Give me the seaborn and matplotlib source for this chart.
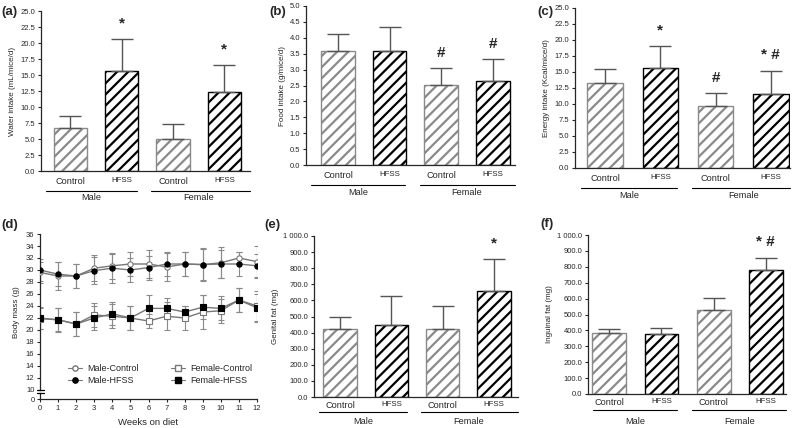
import numpy as np
import pandas as pd
import matplotlib
matplotlib.use("Agg")
import matplotlib.pyplot as plt
import seaborn as sns

# ---------------- data ----------------
sexes = ["Male", "Male", "Female", "Female"]
diets = ["Control", "HFSS", "Control", "HFSS"]

water_mean = [6.7, 15.6, 5.0, 12.3]
water_err = [1.9, 5.1, 2.3, 4.3]
water_sig = ["", "*", "", "*"]

food_mean = [3.58, 3.58, 2.53, 2.63]
food_err = [0.54, 0.77, 0.52, 0.69]
food_sig = ["", "", "#", "#"]

energy_mean = [13.3, 15.7, 9.7, 11.5]
energy_err = [2.1, 3.4, 2.0, 3.7]
energy_sig = ["", "*", "#", "* #"]

genital_mean = [425, 445, 420, 658]
genital_err = [70, 183, 145, 202]
genital_sig = ["", "", "", "*"]

inguinal_mean = [385, 375, 528, 780]
inguinal_err = [23, 37, 74, 78]
inguinal_sig = ["", "", "", "* #"]

weeks = list(range(13))
male_ctrl = [29.6, 29.0, 29.0, 30.3, 30.7, 31.0, 31.0, 30.5, 31.0, 30.9, 31.2, 32.0, 31.4]
male_ctrl_err = [1.8, 2.4, 2.0, 2.2, 2.2, 2.0, 2.3, 2.3, 2.0, 2.7, 2.6, 1.0, 2.6]
male_hfss = [30.0, 29.3, 29.0, 29.9, 30.3, 30.0, 30.4, 31.0, 31.0, 30.9, 31.0, 31.0, 30.7]
male_hfss_err = [1.8, 2.0, 2.0, 2.2, 2.4, 2.0, 2.0, 2.0, 2.0, 2.6, 2.4, 2.0, 2.0]
fem_ctrl = [21.9, 21.7, 21.0, 22.5, 22.3, 22.0, 21.5, 22.3, 22.0, 23.0, 23.2, 25.0, 24.0]
fem_ctrl_err = [1.8, 2.0, 2.0, 2.0, 2.0, 2.0, 1.2, 2.3, 2.0, 2.8, 2.0, 2.0, 2.5]
fem_hfss = [22.0, 21.7, 21.0, 22.0, 22.7, 22.0, 23.6, 23.6, 23.0, 23.8, 23.6, 25.0, 23.7]
fem_hfss_err = [1.8, 1.9, 2.0, 2.0, 1.9, 2.0, 2.2, 1.7, 1.0, 2.0, 2.0, 2.0, 2.3]

# ---------------- style ----------------
sns.set_style("ticks")
plt.rcParams["font.family"] = ["Liberation Sans", "DejaVu Sans"]
plt.rcParams["hatch.linewidth"] = 1.6
plt.rcParams["axes.linewidth"] = 0.9
plt.rcParams["xtick.major.width"] = 0.8
plt.rcParams["ytick.major.width"] = 0.8
plt.rcParams["ytick.major.size"] = 2.5
plt.rcParams["xtick.major.size"] = 2.5

TICK_FS = 5.5
YLAB_FS = 5.8

W, H = 794, 428
fig = plt.figure(figsize=(W / 100, H / 100), dpi=100)


def rect(l, r, t, b):
    return [l / W, 1 - b / H, (r - l) / W, (b - t) / H]


def fmt_thousand(v, pos=None):
    return f"{v:,.1f}".replace(",", " ")


def bar_panel(box, means, errs, sigs, ylim, ystep, ylabel, xlim, fmt=None,
              line_off=20, text_off=27, tick_pad=4):
    ax = fig.add_axes(box)
    names = [f"{s} {d}" for s, d in zip(sexes, diets)]
    df = pd.DataFrame({"group": names, "value": means})
    sns.barplot(data=df, x="group", y="value", order=names, color="white",
                width=0.65, errorbar=None, ax=ax, saturation=1)
    for p, d in zip(ax.patches, diets):
        p.set_facecolor("white")
        p.set_edgecolor("#8a8a8a" if d == "Control" else "black")
        p.set_hatch("///")
        p.set_linewidth(1.0)
    xs = np.arange(len(means))
    ax.errorbar(xs, means, yerr=[np.zeros(len(errs)), errs], fmt="none",
                ecolor="#555555", elinewidth=1.0, capsize=8, capthick=1.0, zorder=1)
    for x, m, e, s in zip(xs, means, errs, sigs):
        if s:
            ax.annotate(s, (x, m + e), xytext=(0, 11), textcoords="offset points",
                        ha="center", va="center", fontsize=11, fontweight="bold")
    ax.set_ylim(*ylim)
    ax.set_yticks(np.arange(ylim[0], ylim[1] + ystep / 2, ystep))
    if fmt is None:
        ax.yaxis.set_major_formatter(matplotlib.ticker.FormatStrFormatter("%.1f"))
    else:
        ax.yaxis.set_major_formatter(matplotlib.ticker.FuncFormatter(fmt))
    ax.set_xlim(*xlim)
    ax.set_xticks(xs)
    ax.set_xticklabels(diets)
    for t, d in zip(ax.get_xticklabels(), diets):
        t.set_fontsize(6.6 if d == "Control" else 5.7)
    ax.tick_params(axis="x", length=0, pad=tick_pad)
    ax.tick_params(axis="y", labelsize=TICK_FS, pad=1.5)
    ax.set_xlabel("")
    ax.set_ylabel(ylabel, fontsize=YLAB_FS, labelpad=3)
    sns.despine(ax=ax)
    trans = matplotlib.transforms.blended_transform_factory(ax.transData, ax.transAxes)
    hpx = box[3] * H
    yline = -line_off / hpx
    ytext = -text_off / hpx
    for (a, b), name in zip([(xlim[0] + 0.1, 1.3), (1.58, xlim[1])], ["Male", "Female"]):
        ax.plot([a, b], [yline, yline], color="black", lw=0.8, transform=trans, clip_on=False)
        ax.text((a + b) / 2 if name == "Male" else 2.5, ytext, name, transform=trans,
                ha="center", va="center", fontsize=6.6)
    return ax


bar_panel(rect(41, 250, 11, 171), water_mean, water_err, water_sig, (0, 25), 2.5,
          "Water intake (mL/mice/d)", (-0.57, 3.5))
bar_panel(rect(306, 515, 6, 165), food_mean, food_err, food_sig, (0, 5), 0.5,
          "Food intake (g/mice/d)", (-0.62, 3.43))
bar_panel(rect(575, 790, 8, 168), energy_mean, energy_err, energy_sig, (0, 25), 2.5,
          "Energy intake (Kcal/mice/d)", (-0.55, 3.35))
bar_panel(rect(314, 518, 236, 397), genital_mean, genital_err, genital_sig, (0, 1000), 100,
          "Genital fat (mg)", (-0.51, 3.47), fmt=fmt_thousand,
          line_off=15, text_off=25, tick_pad=3)
bar_panel(rect(588, 786, 235, 394), inguinal_mean, inguinal_err, inguinal_sig, (0, 1000), 100,
          "Inguinal fat (mg)", (-0.41, 3.39), fmt=fmt_thousand,
          line_off=16, text_off=27, tick_pad=3)

# ---------------- body mass panel (broken axis) ----------------
axd = fig.add_axes(rect(40, 257, 234, 390))
axb = fig.add_axes(rect(40, 257, 393, 399))
bm = pd.DataFrame({
    "week": weeks * 4,
    "mass": male_ctrl + male_hfss + fem_ctrl + fem_hfss,
    "group": ["Male-Control"] * 13 + ["Male-HFSS"] * 13 + ["Female-Control"] * 13 + ["Female-HFSS"] * 13,
})
styles = {
    "Male-Control": dict(marker="o", mfc="white", mec="#777777", err=male_ctrl_err),
    "Male-HFSS": dict(marker="o", mfc="black", mec="black", err=male_hfss_err),
    "Female-Control": dict(marker="s", mfc="white", mec="#777777", err=fem_ctrl_err),
    "Female-HFSS": dict(marker="s", mfc="black", mec="black", err=fem_hfss_err),
}
handles = []
for g, st in styles.items():
    sub = bm[bm["group"] == g]
    axd.errorbar(sub["week"], sub["mass"], yerr=st["err"], fmt="none", ecolor="#8a8a8a",
                 elinewidth=0.8, capsize=2.5, capthick=0.8, zorder=1)
    sns.lineplot(data=sub, x="week", y="mass", ax=axd, color="#777777", lw=1.0,
                 marker=st["marker"], markersize=3.8, markerfacecolor=st["mfc"],
                 markeredgecolor=st["mec"], markeredgewidth=0.8, zorder=3, legend=False)
    handles.append(matplotlib.lines.Line2D([], [], color="#777777", lw=0.8, marker=st["marker"],
                                           markersize=3.8, markerfacecolor=st["mfc"],
                                           markeredgecolor=st["mec"], label=g))
axd.set_xlim(0, 12)
axd.set_ylim(10, 36)
axd.set_yticks(np.arange(10, 37, 2))
axd.set_xticks([])
axd.set_xlabel("")
axd.set_ylabel("Body mass (g)", fontsize=YLAB_FS, labelpad=4)
axd.tick_params(axis="y", labelsize=TICK_FS, pad=1.5)
for s in ["top", "right", "bottom"]:
    axd.spines[s].set_visible(False)
axd.legend(handles=handles, ncol=2, loc="center left", bbox_to_anchor=(0.09, 0.1),
           frameon=False, fontsize=6.5, handlelength=1.6, columnspacing=3.5,
           labelspacing=0.3, handletextpad=0.6)

axb.set_xlim(0, 12)
axb.set_ylim(0, 1)
axb.set_yticks([0])
axb.set_xticks(weeks)
axb.tick_params(axis="y", labelsize=TICK_FS, pad=1.5)
axb.tick_params(axis="x", labelsize=TICK_FS, pad=2)
for s in ["top", "right"]:
    axb.spines[s].set_visible(False)
axb.set_xlabel("Weeks on diet", fontsize=6.8, labelpad=4)
for yy in [390, 393]:
    fig.add_artist(matplotlib.lines.Line2D([37 / W, 44 / W], [1 - yy / H, 1 - yy / H],
                                           color="black", lw=0.9))

# ---------------- panel labels ----------------
for lab, x, y in [("(a)", 1, 12), ("(b)", 269, 12), ("(c)", 537, 12),
                  ("(d)", 1, 225), ("(e)", 264, 225), ("(f)", 540, 224)]:
    fig.text(x / W, 1 - y / H, lab, fontsize=9.5, fontweight="bold", va="center", ha="left")

fig.savefig("out.png", dpi=100, facecolor="white")
